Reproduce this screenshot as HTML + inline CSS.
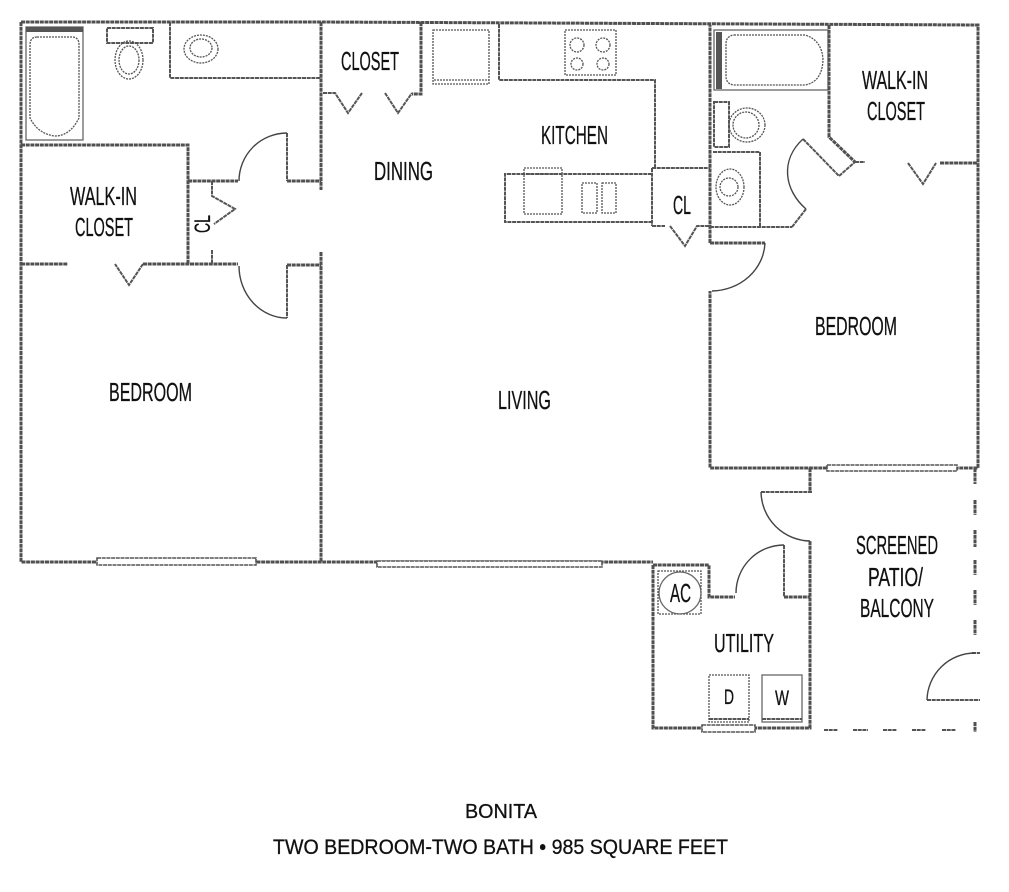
<!DOCTYPE html>
<html><head><meta charset="utf-8"><style>
html,body{margin:0;padding:0;background:#fff}
svg{display:block}
text{font-family:"Liberation Sans",sans-serif;fill:#111;stroke:#111;stroke-width:.3;text-anchor:start}
.w{fill:none;stroke:#505050;stroke-width:3;stroke-dasharray:4 .7}
.t{fill:none;stroke:#555;stroke-width:2;stroke-dasharray:4 .7}
.f{fill:none;stroke:#666;stroke-width:1.3}
.d{fill:none;stroke:#555;stroke-width:1.3;stroke-dasharray:2 1}
.a{fill:none;stroke:#444;stroke-width:1.4}
.win{fill:#fff;stroke:#555;stroke-width:1.6;stroke-dasharray:4 .7}
</style></head><body>
<svg width="1009" height="892" viewBox="0 0 1009 892" xmlns="http://www.w3.org/2000/svg">
<!-- outer and main walls -->
<path class="w" d="M21 22H321L978 25V468H710V291M710 243V25M21 22V562H653M321 22V190M321 252V562"/>
<path class="w" d="M653 565V728H810V541M810 468V493"/>
<!-- left bedroom / closet -->
<path class="w" d="M21 145H188V264M188 181H238M287 181H321M21 264H68M143 264H238M287 265H321"/>
<path class="t" d="M287 133V181M287 265V318"/>
<path class="t" d="M212 181V196L235 209L214 224M212 250V264M143 264L129 285L115 264"/>
<path class="a" d="M287 133A48 48 0 0 0 239 181M239 266A48 52 0 0 0 287 318"/>
<!-- left bath -->
<rect class="f" x="26" y="27" width="57" height="113"/>
<rect x="26" y="27" width="57" height="5" fill="#555"/>
<path class="d" d="M37 37H72Q79 37 79 45V118Q70 136 55 136Q38 134 30 118V45Q30 37 37 37Z"/>
<rect class="t" x="107" y="28" width="46" height="15"/>
<ellipse class="d" cx="129" cy="60" rx="14" ry="19"/>
<ellipse class="d" cx="129" cy="60" rx="10" ry="14"/>
<path class="t" d="M170 22V78H321"/>
<ellipse class="d" cx="201" cy="49" rx="17" ry="14"/>
<ellipse class="d" cx="201" cy="48" rx="11" ry="9"/>
<!-- closet top -->
<path class="w" d="M421 22V94H412"/>
<path class="t" d="M323 93H335L348 113L362 93M385 93L398 113L412 93"/>
<!-- kitchen -->
<rect class="d" x="433" y="30" width="56" height="54"/>
<path class="d" d="M434 80H489"/>
<path class="t" d="M499 24V80H655V168"/>
<rect class="d" x="565" y="30" width="51" height="45"/>
<circle class="d" cx="577" cy="45" r="7"/><circle class="d" cx="603" cy="45" r="7"/>
<circle class="d" cx="577" cy="64" r="6"/><circle class="d" cx="603" cy="64" r="6"/>
<path class="t" d="M652 174H505V222H652"/>
<rect class="d" x="524" y="168" width="38" height="46"/>
<path class="d" d="M526 174H561"/>
<rect class="d" x="582" y="183" width="15" height="30"/>
<rect class="d" x="602" y="183" width="14" height="30"/>
<!-- CL closet -->
<path class="t" d="M652 168V226M652 168H710M652 226H665"/>
<path class="t" d="M670 226L685 246L697 226H710"/>
<!-- right bath -->
<rect class="f" x="714" y="30" width="114" height="60"/>
<rect x="716" y="32" width="6" height="57" fill="#555"/>
<path class="d" d="M734 35H805Q822 40 823 60Q822 82 805 85H734Q726 84 726 76V44Q726 36 734 35Z"/>
<rect class="t" x="714" y="102" width="15" height="45"/>
<ellipse class="d" cx="747" cy="125" rx="18" ry="17"/>
<ellipse class="d" cx="746" cy="125" rx="13" ry="13"/>
<path class="t" d="M713 152H760V227"/>
<ellipse class="d" cx="730" cy="187" rx="14" ry="18"/>
<circle class="d" cx="729" cy="187" r="9"/>
<path class="t" d="M710 227H792"/>
<path class="w" d="M829 25V137L855 162"/>
<path class="t" d="M855 162H865M803 139L839 176L855 162M806 209L792 227"/>
<path class="a" d="M803 139C780 160 784 190 806 209"/>
<path class="t" d="M908 163L923 184L936 163"/>
<path class="w" d="M940 163H977"/>
<!-- bedroom door -->
<path class="w" d="M710 243H765"/>
<path class="a" d="M765 243A54 50 0 0 1 712 291"/>
<!-- windows -->
<rect class="win" x="97" y="558" width="159" height="7"/>
<rect class="win" x="377" y="561" width="225" height="6"/>
<rect class="win" x="827" y="465" width="130" height="6"/>
<rect class="win" x="702" y="725" width="53" height="7"/>
<!-- patio door -->
<path class="t" d="M761 492H812"/>
<path class="a" d="M761 492A50 50 0 0 0 810 541"/>
<!-- utility -->
<path class="w" d="M653 565H709V597H735M784 597H810"/>
<path class="t" d="M784 545V597"/>
<path class="a" d="M784 545A48 48 0 0 0 736 593"/>
<rect class="d" x="658" y="571" width="43" height="43"/>
<circle class="f" cx="680" cy="593" r="21"/>
<rect class="d" x="709" y="675" width="40" height="47"/>
<rect class="f" x="762" y="675" width="40" height="47"/>
<path class="t" d="M709 719H749M762 719H802"/>
<!-- patio dashes -->
<path class="t" d="M824 730H838M853 730H868M883 730H897M912 730H926M942 730H956"/>
<path class="w" d="M975 468V484M975 500V515M975 530V547M975 560V575M975 590V605M975 620V635M975 722V732"/>
<path class="t" d="M972 653H980M927 700H980"/>
<path class="a" d="M975 653A48 48 0 0 0 927 700"/>
<!-- labels -->
<g font-size="26">
<text x="70" y="205" textLength="67" lengthAdjust="spacingAndGlyphs">WALK-IN</text>
<text x="75" y="236" textLength="58" lengthAdjust="spacingAndGlyphs">CLOSET</text>
<text x="341" y="70" textLength="58" lengthAdjust="spacingAndGlyphs">CLOSET</text>
<text x="374" y="180" textLength="59" lengthAdjust="spacingAndGlyphs">DINING</text>
<text x="541" y="144" textLength="67" lengthAdjust="spacingAndGlyphs">KITCHEN</text>
<text x="862" y="89" textLength="66" lengthAdjust="spacingAndGlyphs">WALK-IN</text>
<text x="867" y="120" textLength="58" lengthAdjust="spacingAndGlyphs">CLOSET</text>
<text x="673" y="214" textLength="18" lengthAdjust="spacingAndGlyphs">CL</text>
<text x="815" y="335" textLength="82" lengthAdjust="spacingAndGlyphs">BEDROOM</text>
<text x="109" y="401" textLength="83" lengthAdjust="spacingAndGlyphs">BEDROOM</text>
<text x="498" y="409" textLength="53" lengthAdjust="spacingAndGlyphs">LIVING</text>
<text x="856" y="554" textLength="82" lengthAdjust="spacingAndGlyphs">SCREENED</text>
<text x="868" y="586" textLength="55" lengthAdjust="spacingAndGlyphs">PATIO/</text>
<text x="860" y="617" textLength="74" lengthAdjust="spacingAndGlyphs">BALCONY</text>
<text x="670" y="602" textLength="21" lengthAdjust="spacingAndGlyphs">AC</text>
<text x="714" y="652" textLength="60" lengthAdjust="spacingAndGlyphs">UTILITY</text>
</g>
<text font-size="21" x="724" y="704" textLength="10" lengthAdjust="spacingAndGlyphs">D</text>
<text font-size="21" x="775" y="705" textLength="14" lengthAdjust="spacingAndGlyphs">W</text>
<text font-size="22" transform="translate(210 233) rotate(-90)" textLength="18" lengthAdjust="spacingAndGlyphs">CL</text>
<text font-size="20" x="465" y="818" textLength="72" lengthAdjust="spacingAndGlyphs">BONITA</text>
<text font-size="21" x="273" y="854" textLength="455" lengthAdjust="spacingAndGlyphs">TWO BEDROOM-TWO BATH • 985 SQUARE FEET</text>
</svg>
</body></html>
